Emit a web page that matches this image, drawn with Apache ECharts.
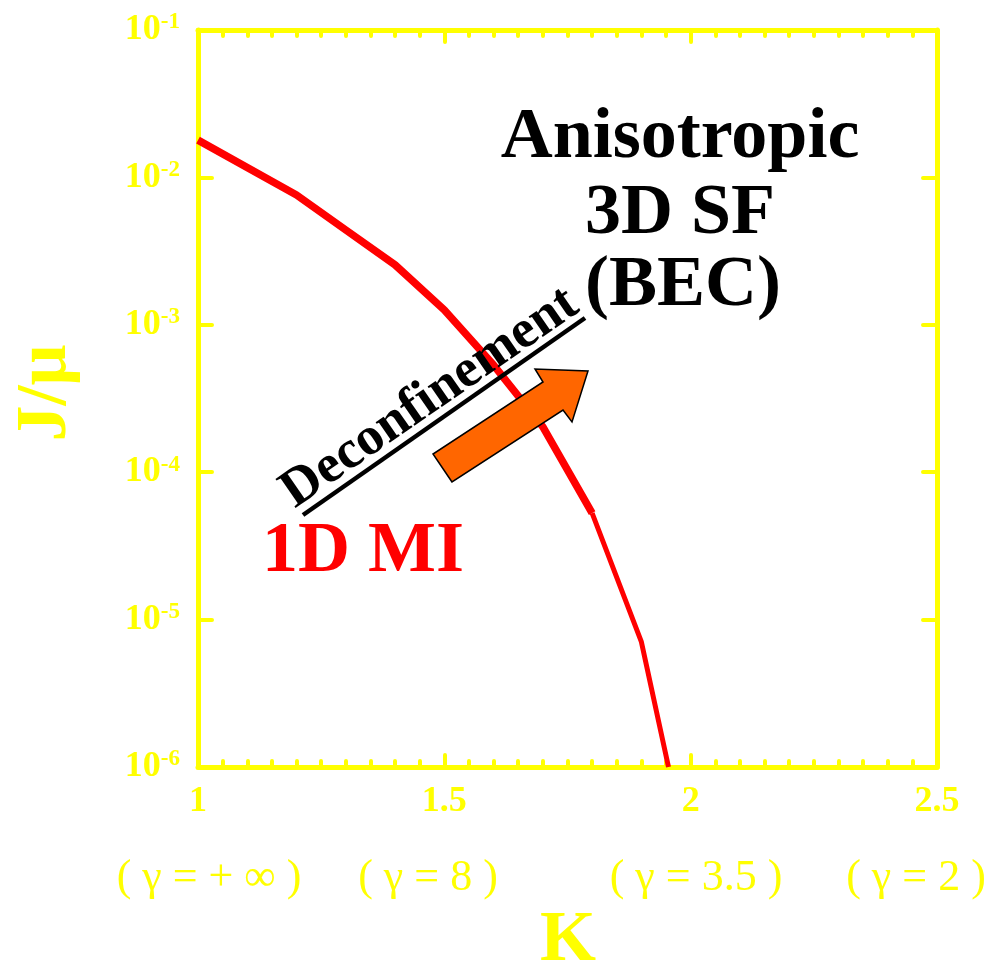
<!DOCTYPE html>
<html><head><meta charset="utf-8">
<script src="https://cdn.jsdelivr.net/npm/echarts@6/dist/echarts.min.js"></script>
<style>html,body{margin:0;padding:0;background:#fff}#c{width:987px;height:971px}</style>
</head><body><div id="c"></div>
<script>
// ---- data ----
const kValues = [1.0, 1.2, 1.3, 1.4, 1.5, 1.6, 1.7, 1.8, 1.9, 1.955];
const jValues = [0.0179, 0.0076, 0.0044, 0.00255, 0.00126, 0.000533, 0.000203, 0.0000528, 0.00000705, 0.000001];
const thinFromK = 1.8;
const xTickLabels = ['1', '1.5', '2', '2.5'];
const yTickExponents = ['-6', '-5', '-4', '-3', '-2', '-1'];
const gammaLabels = ['( γ = + ∞ )', '( γ = 8 )', '( γ = 3.5 )', '( γ = 2 )'];

const YEL = '#ffff00';
const SERIF = '"Liberation Serif","Times New Roman",serif';

const pts = kValues.map((k, i) => [k, jValues[i]]);
const thick = pts.filter(p => p[0] <= thinFromK);
const thin = pts.filter(p => p[0] >= thinFromK);

const chart = echarts.init(document.getElementById('c'), null, {renderer: 'canvas'});

const axisLineStyle = {color: YEL, width: 5, cap: 'round'};
const tickStyle = {color: YEL, width: 4, cap: 'round'};

const option = {
  backgroundColor: '#fff',
  animation: false,
  grid: {left: 198, right: 50, top: 30, bottom: 204, containLabel: false},
  xAxis: [
    {
      type: 'value', min: 1, max: 2.5, interval: 0.5, position: 'bottom',
      axisLine: {show: true, onZero: false, lineStyle: axisLineStyle},
      axisTick: {show: true, inside: true, length: 12, lineStyle: tickStyle},
      minorTick: {show: true, splitNumber: 10, length: 6, lineStyle: tickStyle},
      splitLine: {show: false},
      axisLabel: {
        margin: 17, color: YEL, fontFamily: SERIF, fontWeight: 'bold', fontSize: 36,
        formatter: (v) => { const i = Math.round((v - 1) / 0.5); return xTickLabels[i] !== undefined ? xTickLabels[i] : ''; }
      }
    },
    {
      type: 'value', min: 1, max: 2.5, interval: 0.5, position: 'top',
      axisLine: {show: true, onZero: false, lineStyle: axisLineStyle},
      axisTick: {show: true, inside: true, length: 12, lineStyle: tickStyle},
      minorTick: {show: true, splitNumber: 10, length: 6, lineStyle: tickStyle},
      splitLine: {show: false},
      axisLabel: {show: false}
    }
  ],
  yAxis: [
    {
      type: 'log', logBase: 10, min: 1e-6, max: 1e-1, position: 'left',
      axisLine: {show: true, onZero: false, lineStyle: axisLineStyle},
      axisTick: {show: true, inside: true, length: 14, lineStyle: tickStyle},
      minorTick: {show: false},
      splitLine: {show: false},
      axisLabel: {
        margin: 18, color: YEL, fontFamily: SERIF, fontWeight: 'bold',
        formatter: (v) => {
          const e = Math.round(Math.log10(v));
          const idx = e + 6;
          return '{b|10}{s|' + (yTickExponents[idx] !== undefined ? yTickExponents[idx] : e) + '}';
        },
        rich: {
          b: {fontFamily: SERIF, fontWeight: 'bold', fontSize: 36, lineHeight: 38, color: YEL},
          s: {fontFamily: SERIF, fontWeight: 'bold', fontSize: 23, color: YEL, verticalAlign: 'top'}
        }
      }
    },
    {
      type: 'log', logBase: 10, min: 1e-6, max: 1e-1, position: 'right',
      axisLine: {show: true, onZero: false, lineStyle: axisLineStyle},
      axisTick: {show: true, inside: true, length: 14, lineStyle: tickStyle},
      splitLine: {show: false},
      axisLabel: {show: false}
    }
  ],
  series: [
    {type: 'line', xAxisIndex: 0, yAxisIndex: 0, data: thick, showSymbol: false, symbol: 'none',
     lineStyle: {color: '#ff0000', width: 7.5, join: 'round'}, clip: false, z: 3},
    {type: 'line', xAxisIndex: 0, yAxisIndex: 0, data: thin, showSymbol: false, symbol: 'none',
     lineStyle: {color: '#ff0000', width: 5, join: 'round'}, clip: true, z: 3}
  ],
  graphic: [
    // axis titles
    {type: 'text', x: 568, y: 941, style: {text: 'K', font: 'bold 72px ' + SERIF, fill: YEL, align: 'center', verticalAlign: 'middle'}},
    {type: 'text', x: 46, y: 393, rotation: Math.PI / 2, style: {text: 'J/μ', font: 'bold 72px ' + SERIF, fill: YEL, align: 'center', verticalAlign: 'middle'}},
    // gamma labels
    {type: 'text', x: 209, y: 878, style: {text: gammaLabels[0], font: '44px ' + SERIF, fill: YEL, align: 'center', verticalAlign: 'middle'}},
    {type: 'text', x: 428, y: 878, style: {text: gammaLabels[1], font: '44px ' + SERIF, fill: YEL, align: 'center', verticalAlign: 'middle'}},
    {type: 'text', x: 696, y: 878, style: {text: gammaLabels[2], font: '44px ' + SERIF, fill: YEL, align: 'center', verticalAlign: 'middle'}},
    {type: 'text', x: 916, y: 878, style: {text: gammaLabels[3], font: '44px ' + SERIF, fill: YEL, align: 'center', verticalAlign: 'middle'}},
    // region annotations
    {type: 'text', x: 680, y: 138, z: 10, style: {text: 'Anisotropic', font: 'bold 72px ' + SERIF, fill: '#000', align: 'center', verticalAlign: 'middle'}},
    {type: 'text', x: 680, y: 214, z: 10, style: {text: '3D SF', font: 'bold 72px ' + SERIF, fill: '#000', align: 'center', verticalAlign: 'middle'}},
    {type: 'text', x: 683, y: 286, z: 10, style: {text: '(BEC)', font: 'bold 72px ' + SERIF, fill: '#000', align: 'center', verticalAlign: 'middle'}},
    {type: 'text', x: 363, y: 552, z: 10, style: {text: '1D MI', font: 'bold 72px ' + SERIF, fill: '#ff0000', align: 'center', verticalAlign: 'middle'}},
    // deconfinement label + underline
    {type: 'text', x: 430, y: 398, rotation: 0.605, z: 10, style: {text: 'Deconfinement', font: 'bold 54px ' + SERIF, fill: '#000', align: 'center', verticalAlign: 'middle'}},
    {type: 'line', z: 10, shape: {x1: 303, y1: 515, x2: 585, y2: 318}, style: {stroke: '#000', lineWidth: 4.5}},
    // arrow
    {type: 'polygon', z: 10, shape: {points: [[452, 482], [433, 454], [543, 382], [535, 369], [588, 371], [572, 422], [563, 410]]},
     style: {fill: '#ff6600', stroke: '#000', lineWidth: 1.5}}
  ]
};
chart.setOption(option);
</script>
</body></html>
